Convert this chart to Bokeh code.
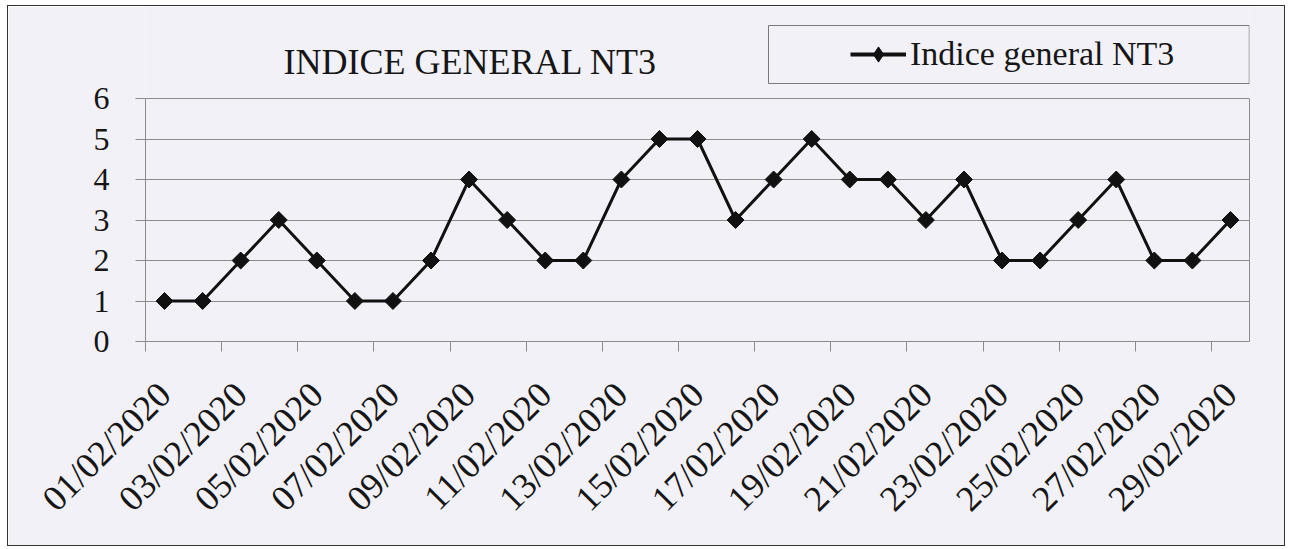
import math
from bokeh.plotting import figure
from bokeh.models import (FixedTicker, Label, Legend, LegendItem, Range1d,
                          ColumnDataSource, LinearAxis)
from bokeh.embed import file_html
from bokeh.resources import INLINE

# ---- data ----
dates = ["01/02/2020", "02/02/2020", "03/02/2020", "04/02/2020", "05/02/2020",
         "06/02/2020", "07/02/2020", "08/02/2020", "09/02/2020", "10/02/2020",
         "11/02/2020", "12/02/2020", "13/02/2020", "14/02/2020", "15/02/2020",
         "16/02/2020", "17/02/2020", "18/02/2020", "19/02/2020", "20/02/2020",
         "21/02/2020", "22/02/2020", "23/02/2020", "24/02/2020", "25/02/2020",
         "26/02/2020", "27/02/2020", "28/02/2020", "29/02/2020"]
values = [1, 1, 2, 3, 2, 1, 1, 2, 4, 3, 2, 2, 4, 5, 5, 3, 4, 5, 4, 4,
          3, 4, 2, 2, 3, 4, 2, 2, 3]
series_name = "Indice general NT3"
chart_title = "INDICE GENERAL NT3"
y_ticks = [0, 1, 2, 3, 4, 5, 6]

FONT = "Liberation Serif"
BG = "#f1f1f7"
GRID = "#8c8c8c"
TXT = "#161616"
INK = "#111111"

W, H = 1278, 541
ML, MR, MB = 137, 37, 206
frame_h = H - MB
ymax = y_ticks[-1]
# plot area (0..6) occupies the lower 243 px of the frame; header sits above
y_top = ymax * frame_h / 243.0

idx = list(range(1, len(dates) + 1))
src = ColumnDataSource(dict(x=idx, y=values, d=dates))

p = figure(width=W, height=H, output_backend="svg", toolbar_location=None,
           x_range=Range1d(0.5, len(dates) + 0.5), y_range=Range1d(0, y_top),
           min_border_left=ML, min_border_right=MR, min_border_top=0,
           min_border_bottom=MB)
p.styles = {"border": "1px solid #333", "margin-left": "7px", "margin-top": "5px"}
p.background_fill_color = BG
p.border_fill_color = BG
p.outline_line_color = None

# y axis
p.yaxis.ticker = FixedTicker(ticks=y_ticks)
p.yaxis.bounds = (0, ymax)
p.yaxis.axis_line_color = GRID
p.yaxis.major_tick_line_color = GRID
p.yaxis.major_tick_out = 10
p.yaxis.major_tick_in = 0
p.yaxis.minor_tick_line_color = None
p.yaxis.major_label_text_font = FONT
p.yaxis.major_label_text_font_size = "32px"
p.yaxis.major_label_text_color = TXT
p.yaxis.major_label_standoff = 26

# right edge of plot area
ra = LinearAxis(ticker=FixedTicker(ticks=[]), bounds=(0, ymax),
                axis_line_color=GRID, major_tick_line_color=None,
                minor_tick_line_color=None, major_label_text_alpha=0)
p.add_layout(ra, "right")

# x axis
odd = idx[0::2]
bounds = [i + 0.5 for i in range(0, len(dates), 2)]
p.xaxis.ticker = FixedTicker(ticks=odd, minor_ticks=bounds)
p.xaxis.major_label_overrides = {i: dates[i - 1] for i in odd}
p.xaxis.axis_line_color = GRID
p.xaxis.major_tick_line_color = None
p.xaxis.major_tick_out = 0
p.xaxis.major_tick_in = 0
p.xaxis.minor_tick_line_color = GRID
p.xaxis.minor_tick_out = 10
p.xaxis.minor_tick_in = 0
p.xaxis.major_label_orientation = math.pi / 4
p.xaxis.major_label_text_font = FONT
p.xaxis.major_label_text_font_size = "36px"
p.xaxis.major_label_text_color = TXT
p.xaxis.major_label_standoff = 37

p.xgrid.grid_line_color = None
p.ygrid.grid_line_color = GRID
p.ygrid.grid_line_width = 1

line_r = p.line("x", "y", source=src, line_color=INK, line_width=3)
mark_r = p.scatter("x", "y", source=src, marker="square", angle=math.pi / 4,
                   size=12, fill_color=INK, line_color=INK)

# legend-only glyphs (a single NaN point, never drawn in the plot)
key_src = ColumnDataSource(dict(x=[float("nan")], y=[float("nan")]))
leg_line = p.line("x", "y", source=key_src, line_color=INK, line_width=4)
leg_mark = p.scatter("x", "y", source=key_src, marker="diamond", size=16,
                     fill_color=INK, line_color=INK)

# title
p.add_layout(Label(x=138, y=280, x_units="screen", y_units="screen",
                   text=chart_title, text_font=FONT,
                   text_font_size="36px", text_color=TXT,
                   text_baseline="alphabetic"))

# legend box (padding order: left, right, top, bottom)
p.add_layout(Label(x=623, y=258, x_units="screen", y_units="screen", text=" ",
                   text_font_size="10px", padding=(0, 478, 47, 0),
                   border_line_color="#7a7a7a", background_fill_color=None))

legend = Legend(items=[LegendItem(label=series_name, renderers=[leg_line, leg_mark])],
                location=(705, 268), border_line_color=None,
                background_fill_alpha=0, padding=0, glyph_width=56,
                glyph_height=38, label_standoff=4, label_text_font=FONT,
                label_text_font_size="34px", label_text_color=TXT)
p.add_layout(legend, "center")

open("out.html", "w").write(file_html(p, INLINE))
